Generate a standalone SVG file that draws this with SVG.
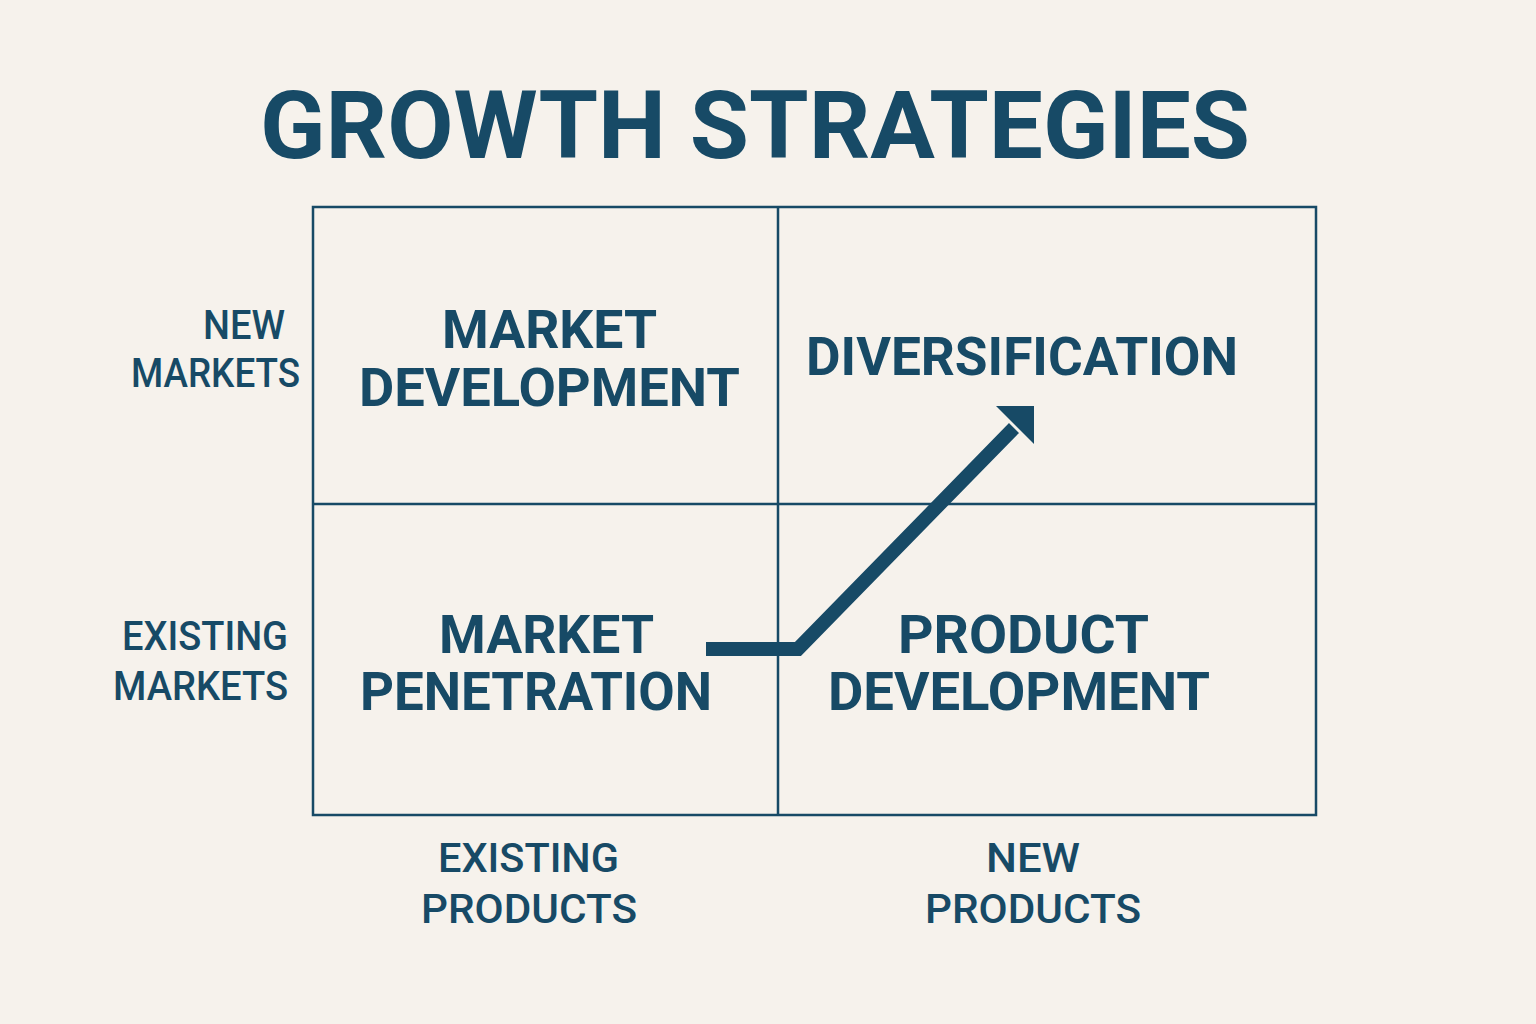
<svg xmlns="http://www.w3.org/2000/svg" width="1536" height="1024" viewBox="0 0 1536 1024">
  <style>
    .t { fill: #174a66; font-family: Roboto, "Liberation Sans", sans-serif; }
    .title { font-size: 95px; font-weight: bold; }
    .cell { font-size: 54px; font-weight: bold; }
    .axis { font-size: 40px; font-weight: 500; }
    .grid { fill: none; stroke: #174a66; stroke-width: 2.5; }
  </style>
  <rect x="0" y="0" width="1536" height="1024" fill="#f6f2ec"/>

  <g id="title">
    <text class="t title" x="260" y="158" textLength="990" lengthAdjust="spacingAndGlyphs">GROWTH STRATEGIES</text>
  </g>

  <g id="grid">
    <rect class="grid" x="313" y="207" width="1003" height="608"/>
    <line class="grid" x1="778" y1="207" x2="778" y2="815"/>
    <line class="grid" x1="313" y1="504" x2="1316" y2="504"/>
  </g>

  <g id="market-development">
    <text class="t cell" x="442" y="348" textLength="215" lengthAdjust="spacingAndGlyphs">MARKET</text>
    <text class="t cell" x="359" y="406" textLength="381" lengthAdjust="spacingAndGlyphs">DEVELOPMENT</text>
  </g>

  <g id="diversification">
    <text class="t cell" x="806" y="375" textLength="432" lengthAdjust="spacingAndGlyphs">DIVERSIFICATION</text>
  </g>

  <g id="market-penetration">
    <text class="t cell" x="439" y="653" textLength="215" lengthAdjust="spacingAndGlyphs">MARKET</text>
    <text class="t cell" x="360" y="710" textLength="352" lengthAdjust="spacingAndGlyphs">PENETRATION</text>
  </g>

  <g id="product-development">
    <text class="t cell" x="898" y="653" textLength="251" lengthAdjust="spacingAndGlyphs">PRODUCT</text>
    <text class="t cell" x="828" y="710" textLength="382" lengthAdjust="spacingAndGlyphs">DEVELOPMENT</text>
  </g>

  <g id="axis-new-markets">
    <text class="t axis" x="203" y="339" textLength="82" lengthAdjust="spacingAndGlyphs">NEW</text>
    <text class="t axis" x="131" y="387" textLength="169" lengthAdjust="spacingAndGlyphs">MARKETS</text>
  </g>

  <g id="axis-existing-markets">
    <text class="t axis" x="122" y="650" textLength="166" lengthAdjust="spacingAndGlyphs">EXISTING</text>
    <text class="t axis" x="113" y="700" textLength="175" lengthAdjust="spacingAndGlyphs">MARKETS</text>
  </g>

  <g id="axis-existing-products">
    <text class="t axis" x="438" y="872" textLength="181" lengthAdjust="spacingAndGlyphs">EXISTING</text>
    <text class="t axis" x="421" y="923" textLength="216" lengthAdjust="spacingAndGlyphs">PRODUCTS</text>
  </g>

  <g id="axis-new-products">
    <text class="t axis" x="986" y="872" textLength="94" lengthAdjust="spacingAndGlyphs">NEW</text>
    <text class="t axis" x="925" y="923" textLength="216" lengthAdjust="spacingAndGlyphs">PRODUCTS</text>
  </g>

  <g id="connectors">
    <polyline points="706,649 798,649 1014,428" fill="none" stroke="#174a66" stroke-width="14" stroke-linejoin="miter"/>
    <polygon points="1034,406 996,406 1034,444" fill="#174a66"/>
  </g>
</svg>
